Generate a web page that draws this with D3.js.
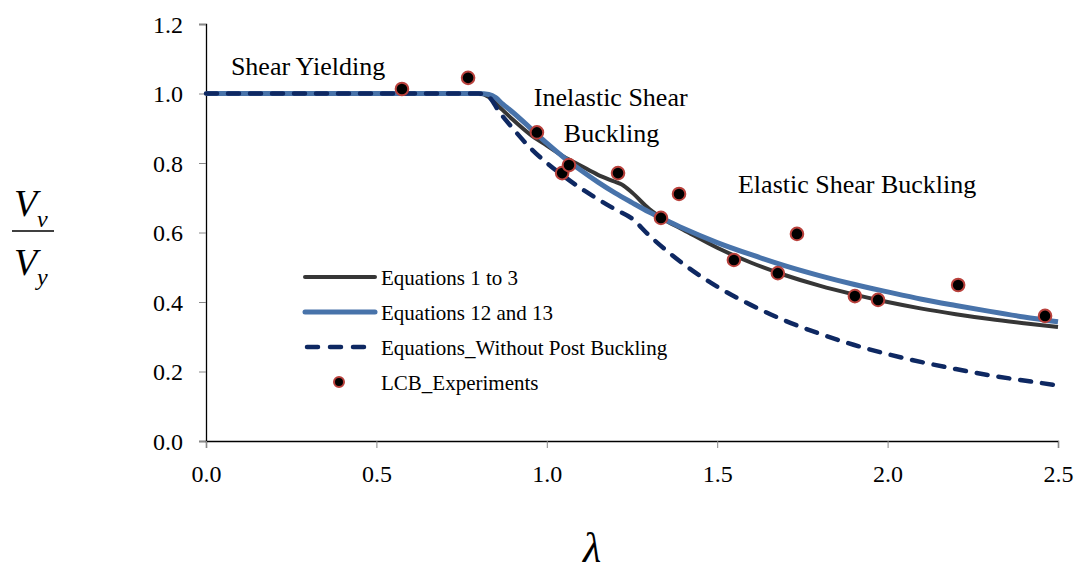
<!DOCTYPE html>
<html>
<head>
<meta charset="utf-8">
<script src="https://cdn.jsdelivr.net/npm/d3@7"></script>
<style>
  body { margin: 0; background: #fff; }
</style>
</head>
<body>
<svg id="chart" width="1074" height="576"></svg>
<script>
// ---- data ----
const lambdaVals = [0, 0.80, 0.83, 0.86, 0.90, 0.95, 1.00, 1.05, 1.10, 1.15, 1.20, 1.22, 1.25, 1.30, 1.35, 1.40, 1.50, 1.60, 1.70, 1.80, 1.90, 2.00, 2.10, 2.20, 2.30, 2.40, 2.50];
const eq1to3 =   [1.0, 1.0, 0.990, 0.962, 0.925, 0.883, 0.850, 0.818, 0.792, 0.766, 0.746, 0.738, 0.715, 0.668, 0.634, 0.608, 0.556, 0.513, 0.477, 0.447, 0.422, 0.400, 0.381, 0.365, 0.351, 0.339, 0.328];
const blueLambda = [0, 0.80, 0.83, 0.85, 0.87, 0.90, 0.95, 1.00, 1.05, 1.10, 1.15, 1.20, 1.25, 1.30, 1.35, 1.40, 1.50, 1.60, 1.70, 1.80, 1.90, 2.00, 2.10, 2.20, 2.30, 2.40, 2.50];
const eq12and13 = [1.0, 1.0, 0.997, 0.988, 0.970, 0.946, 0.902, 0.857, 0.816, 0.779, 0.745, 0.714, 0.686, 0.659, 0.635, 0.612, 0.571, 0.536, 0.504, 0.476, 0.451, 0.429, 0.408, 0.390, 0.373, 0.357, 0.343];
const dashLambda = [0, 0.80, 0.83, 0.86, 0.90, 0.95, 1.00, 1.05, 1.10, 1.15, 1.20, 1.25, 1.30, 1.35, 1.40, 1.50, 1.60, 1.70, 1.80, 1.90, 2.00, 2.10, 2.20, 2.30, 2.40, 2.50];
const eqNoPost = [1.0, 1.0, 0.990, 0.948, 0.900, 0.845, 0.800, 0.762, 0.727, 0.696, 0.667, 0.640, 0.592, 0.549, 0.510, 0.444, 0.391, 0.346, 0.309, 0.277, 0.250, 0.227, 0.207, 0.189, 0.174, 0.160];
const expLambda = [0.575, 0.769, 0.971, 1.045, 1.065, 1.209, 1.335, 1.388, 1.549, 1.678, 1.734, 1.904, 1.972, 2.207, 2.462];
const expRatio  = [1.013, 1.045, 0.888, 0.771, 0.794, 0.771, 0.642, 0.711, 0.521, 0.483, 0.596, 0.417, 0.406, 0.449, 0.360];
const xTicks = [0, 0.5, 1.0, 1.5, 2.0, 2.5];
const yTicks = [0, 0.2, 0.4, 0.6, 0.8, 1.0, 1.2];
const seriesNames = ["Equations 1 to 3", "Equations 12 and 13", "Equations_Without Post Buckling", "LCB_Experiments"];
const annotations = [
  {text: "Shear Yielding", x: 0.073, y: 1.053},
  {text: "Inelastic Shear", x: 0.962, y: 0.965},
  {text: "Buckling", x: 1.050, y: 0.860},
  {text: "Elastic Shear Buckling", x: 1.561, y: 0.714}
];

// ---- drawing ----
const FONT = "Liberation Serif";
const svg = d3.select("#chart");
const x = d3.scaleLinear().domain([0, 2.5]).range([206, 1058]);
const y = d3.scaleLinear().domain([0, 1.2]).range([441, 24]);

const colBlack = "#363636", colBlue = "#4873aa", colNavy = "#0e2862";

// axes
const yAxis = d3.axisLeft(y).tickValues(yTicks).tickFormat(d3.format(".1f")).tickSize(7).tickPadding(16);
const gy = svg.append("g").attr("transform", "translate(206,0)").call(yAxis);
const xAxis = d3.axisBottom(x).tickValues(xTicks).tickFormat(d3.format(".1f")).tickSize(7).tickPadding(9);
const gx = svg.append("g").attr("transform", "translate(0,441)").call(xAxis);
[gx, gy].forEach(g => {
  g.attr("font-family", null).attr("font-size", null);
  g.select(".domain").attr("stroke", "#000").attr("stroke-width", 1.3);
  g.selectAll(".tick line").attr("stroke", "#888").attr("stroke-width", 1);
  g.selectAll(".tick text").attr("font-family", FONT).style("font-family", FONT)
    .attr("font-size", 24).style("font-size", "24px").attr("fill", "#000");
});
gx.selectAll(".tick text").attr("y", 41).attr("dy", 0);
gy.selectAll(".tick text").attr("dy", "0.34em");

// lines
const line = d3.line().x(d => x(d[0])).y(d => y(d[1])).curve(d3.curveMonotoneX);
const blackData = lambdaVals.map((l, i) => [l, eq1to3[i]]);
const blueData = blueLambda.map((l, i) => [l, eq12and13[i]]);
const dashData = dashLambda.map((l, i) => [l, eqNoPost[i]]);

svg.append("path").attr("d", line(blackData)).attr("fill", "none").attr("stroke", colBlack).attr("stroke-width", 4);
svg.append("path").attr("d", line(blueData)).attr("fill", "none").attr("stroke", colBlue).attr("stroke-width", 5);
svg.append("path").attr("d", line(dashData)).attr("fill", "none").attr("stroke", colNavy).attr("stroke-width", 4.5)
  .attr("stroke-dasharray", "11,11").attr("stroke-linecap", "round");

// experiments
svg.selectAll("circle.exp").data(expLambda.map((l, i) => [l, expRatio[i]])).join("circle")
  .attr("class", "exp").attr("cx", d => x(d[0])).attr("cy", d => y(d[1])).attr("r", 6.3)
  .attr("fill", "#000").attr("stroke", "#b9413c").attr("stroke-width", 2);

// annotations
svg.selectAll("text.ann").data(annotations).join("text").attr("class", "ann")
  .attr("x", d => x(d.x)).attr("y", d => y(d.y)).attr("font-family", FONT).attr("font-size", 26).attr("fill", "#000").text(d => d.text);

// legend
const lg = svg.append("g");
const legY = [277, 312, 347, 382];
const lx0 = 305, lx1 = 375;
lg.append("line").attr("x1", lx0).attr("x2", lx1).attr("y1", legY[0]).attr("y2", legY[0]).attr("stroke", colBlack).attr("stroke-width", 4).attr("stroke-linecap", "round");
lg.append("line").attr("x1", lx0).attr("x2", lx1).attr("y1", legY[1]).attr("y2", legY[1]).attr("stroke", colBlue).attr("stroke-width", 5).attr("stroke-linecap", "round");
lg.append("line").attr("x1", lx0 + 2).attr("x2", lx1).attr("y1", legY[2]).attr("y2", legY[2]).attr("stroke", colNavy).attr("stroke-width", 4.5).attr("stroke-dasharray", "11,12").attr("stroke-linecap", "round");
lg.append("circle").attr("cx", (lx0 + lx1) / 2 - 1).attr("cy", legY[3]).attr("r", 5).attr("fill", "#000").attr("stroke", "#b9413c").attr("stroke-width", 2);
lg.selectAll("text").data(seriesNames).join("text")
  .attr("x", 381).attr("y", (d, i) => legY[i] + 8).attr("font-family", FONT).attr("font-size", 21).attr("fill", "#000").text(d => d);

// y label: V_v / V_y
const yl = svg.append("g").attr("fill", "#000");
yl.append("text").attr("x", 14).attr("y", 216).attr("font-size", 38).text("V");
yl.append("text").attr("x", 37).attr("y", 227).attr("font-size", 24).text("v");
yl.append("line").attr("x1", 12).attr("x2", 54).attr("y1", 231).attr("y2", 231).attr("stroke", "#000").attr("stroke-width", 1.5);
yl.append("text").attr("x", 14).attr("y", 275).attr("font-size", 38).text("V");
yl.append("text").attr("x", 37).attr("y", 285).attr("font-size", 24).text("y");
yl.selectAll("text").attr("font-family", FONT).attr("font-style", "italic");

// x label: lambda
svg.append("text").attr("x", 592).attr("y", 562).attr("text-anchor", "middle").attr("font-size", 42)
  .attr("font-family", FONT).attr("font-style", "italic").attr("fill", "#000").text("λ");
</script>
</body>
</html>
